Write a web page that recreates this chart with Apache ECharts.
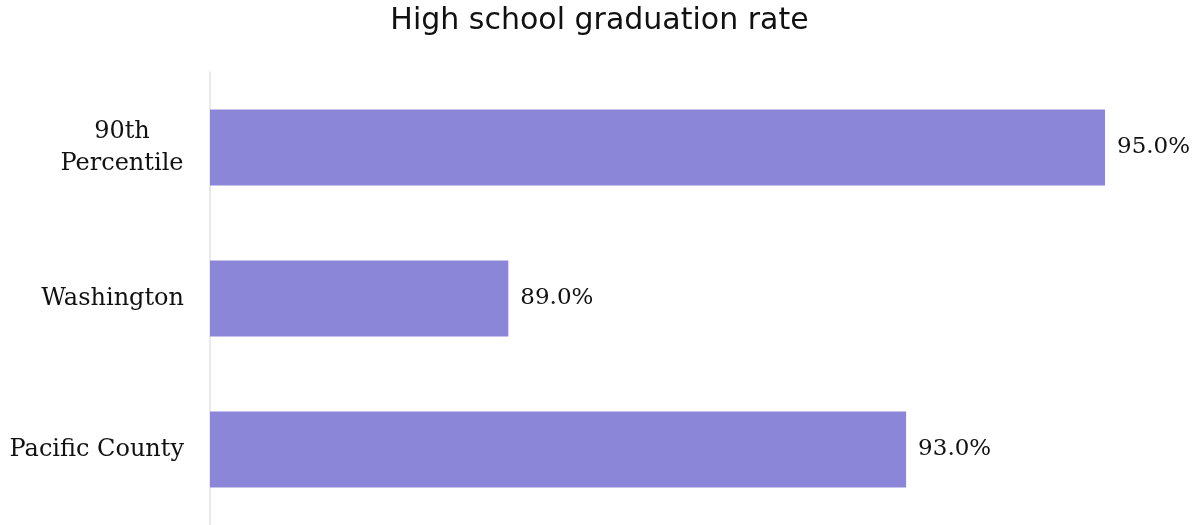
<!DOCTYPE html>
<html>
<head>
<meta charset="utf-8">
<script src="https://cdn.jsdelivr.net/npm/echarts@6/dist/echarts.min.js"></script>
<style>
  html, body { margin: 0; padding: 0; background: #fff; }
  #chart { width: 1199px; height: 525px; }
</style>
</head>
<body>
<div id="chart"></div>
<script>
// Categories listed bottom to top (category axis on y grows upward)
const categories = ['Pacific County', 'Washington', '90th\nPercentile'];
const rates = [93.0, 89.0, 95.0];

const serif = 'DejaVu Serif';

const chart = echarts.init(document.getElementById('chart'));
chart.setOption({
  animation: false,
  title: {
    text: 'High school graduation rate',
    left: 'center',
    top: 1,
    textStyle: { fontFamily: 'DejaVu Sans', fontWeight: 'normal', fontSize: 30, color: '#111' }
  },
  grid: { left: 210, right: 94, top: 72, bottom: -2, containLabel: false },
  xAxis: {
    type: 'value',
    min: 86,
    max: 95,
    show: false
  },
  yAxis: {
    type: 'category',
    data: categories,
    axisLine: { show: true, lineStyle: { color: '#e2e2e2', width: 1.5 } },
    axisTick: { show: false },
    axisLabel: {
      fontFamily: serif,
      fontSize: 24,
      color: '#111',
      margin: 26,
      align: 'right',
      lineHeight: 32,
      // two-line labels are centred within their own block
      formatter: v => v.indexOf('\n') >= 0
        ? v.split('\n').map(s => '{c|' + s + '}').join('\n')
        : v,
      rich: {
        c: { fontFamily: serif, fontSize: 24, color: '#111', lineHeight: 32, width: 124, align: 'center' }
      }
    }
  },
  series: [{
    type: 'bar',
    data: rates,
    barWidth: 76,
    itemStyle: { color: '#8c86d9' },
    label: {
      show: true,
      position: 'right',
      distance: 12,
      fontFamily: serif,
      fontSize: 23,
      color: '#111',
      formatter: p => p.value.toFixed(1) + '%'
    }
  }]
});
</script>
</body>
</html>
